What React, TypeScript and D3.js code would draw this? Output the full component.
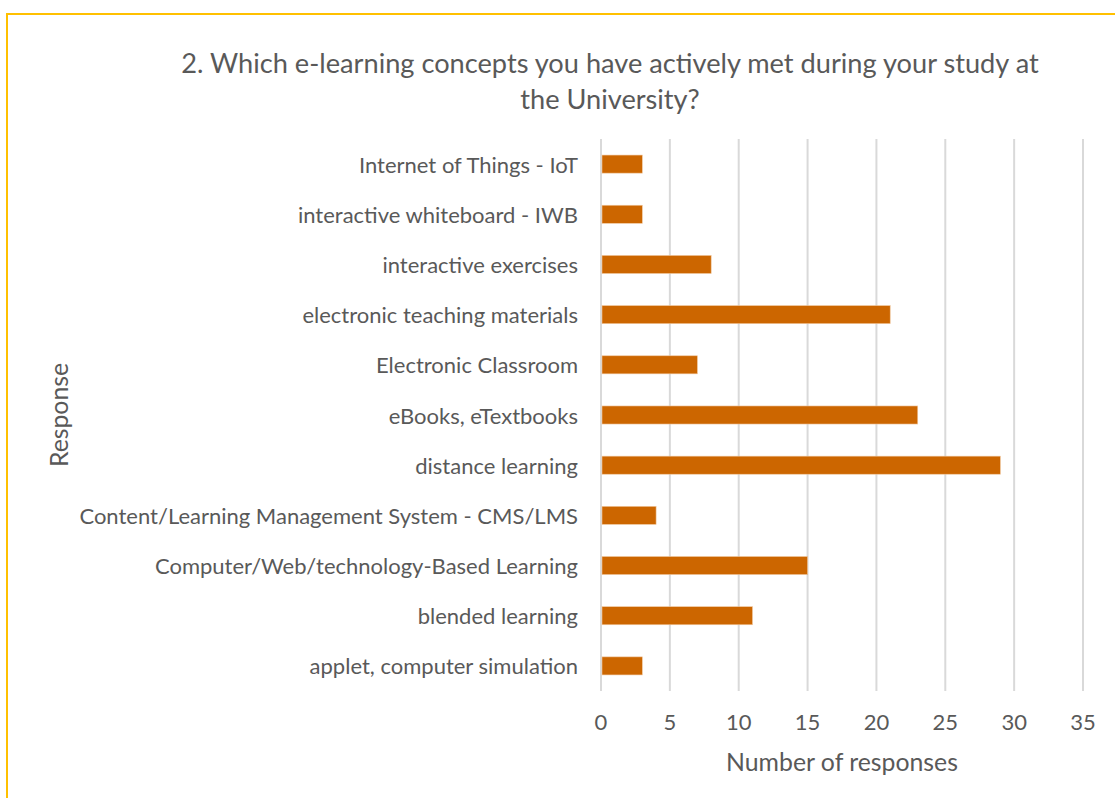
import React from "react";
import * as d3 from "d3";

const categories = [
  "Internet of Things - IoT",
  "interactive whiteboard - IWB",
  "interactive exercises",
  "electronic teaching materials",
  "Electronic Classroom",
  "eBooks, eTextbooks",
  "distance learning",
  "Content/Learning Management System - CMS/LMS",
  "Computer/Web/technology-Based Learning",
  "blended learning",
  "applet, computer simulation",
];
const responses = [3, 3, 8, 21, 7, 23, 29, 4, 15, 11, 3];
const xTicks = [0, 5, 10, 15, 20, 25, 30, 35];
const titleLines = [
  "2. Which e-learning concepts you have actively met during your study at",
  "the University?",
];

const W = 1115;
const H = 798;
const font = "Lato, 'Open Sans', sans-serif";
const textColor = "#595959";

export default function App() {
  const margin = { left: 601, right: 32, top: 139, bottom: 107 };

  const x = d3.scaleLinear().domain([0, 35]).range([margin.left, W - margin.right]);
  const y = d3
    .scaleBand()
    .domain(categories)
    .range([margin.top, H - margin.bottom])
    .paddingInner(0.64)
    .paddingOuter(0.32);

  const barH = y.bandwidth();

  return (
    <svg
      width={W}
      height={H}
      style={{ position: "absolute", left: 0, top: 0, background: "#fff" }}
      fontFamily={font}
    >
      {/* outer frame */}
      <rect x={7} y={14} width={W + 20} height={H + 20} fill="none" stroke="#FFC000" strokeWidth={2} />

      {titleLines.map((t, i) => (
        <text key={i} x={610} y={73 + i * 36} textAnchor="middle" fontSize={27.2} fill={textColor}>
          {t}
        </text>
      ))}

      {/* grid */}
      {xTicks.map((t) => (
        <line
          key={t}
          x1={x(t)}
          x2={x(t)}
          y1={margin.top}
          y2={H - margin.bottom}
          stroke="#D9D9D9"
          strokeWidth={2}
        />
      ))}

      {/* bars */}
      {categories.map((c, i) => (
        <rect
          key={c}
          x={x(0) + 1}
          y={y(c)!}
          width={x(responses[i]) - x(0) - 1}
          height={barH}
          fill="#CC6600"
          stroke="#F0C8A0"
          strokeWidth={0.6}
        />
      ))}

      {/* category labels */}
      {categories.map((c) => (
        <text
          key={c}
          x={578}
          y={y(c)! + barH / 2}
          textAnchor="end"
          dominantBaseline="central"
          fontSize={22}
          fill={textColor}
        >
          {c}
        </text>
      ))}

      {/* tick labels */}
      {xTicks.map((t) => (
        <text key={t} x={x(t)} y={730} textAnchor="middle" fontSize={22} fill={textColor}>
          {t}
        </text>
      ))}

      <text x={842} y={771} textAnchor="middle" fontSize={24.8} fill={textColor}>
        Number of responses
      </text>
      <text
        transform={`translate(68, 415) rotate(-90)`}
        textAnchor="middle"
        fontSize={24.8}
        fill={textColor}
      >
        Response
      </text>
    </svg>
  );
}
